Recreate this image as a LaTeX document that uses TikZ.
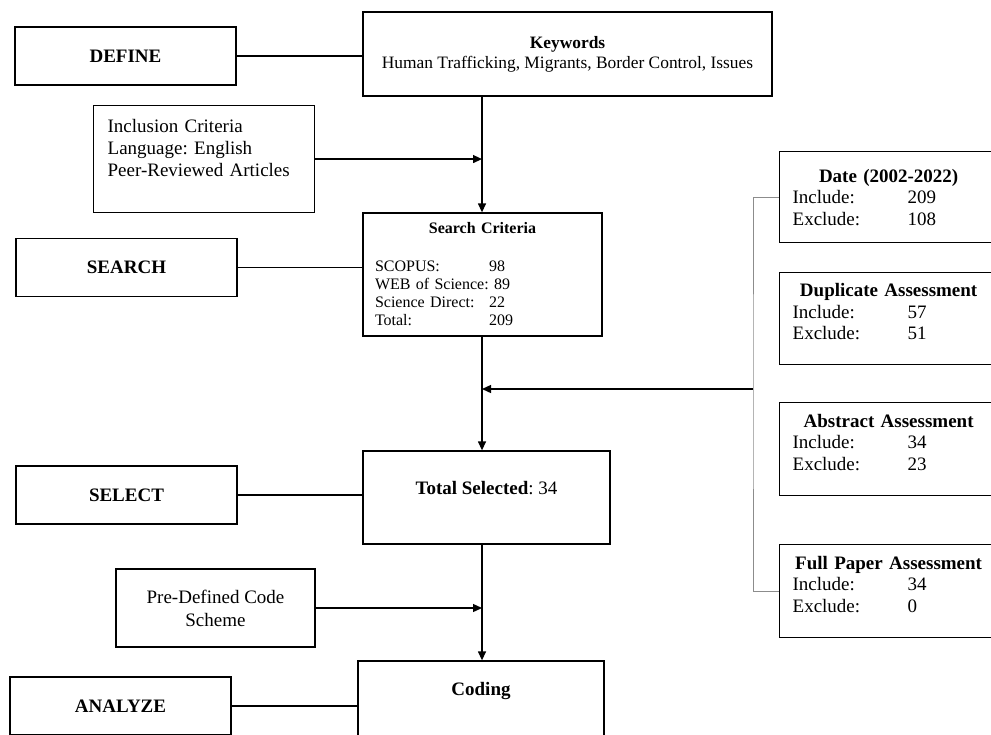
\documentclass[tikz,border=0pt]{standalone}
\usepackage{fontspec}
\setmainfont{Liberation Serif}
\usetikzlibrary{arrows.meta}
\frenchspacing

\begin{document}
\begin{tikzpicture}[
  x=1pt, y=-1pt,
  box/.style={draw, line width=1.3pt, inner sep=0pt},
  stage/.style={box, minimum width=221pt, minimum height=58pt, font=\fontsize{19}{21}\selectfont\bfseries},
  flow/.style={box, align=center, font=\fontsize{19}{23}\selectfont},
  filt/.style={box, anchor=north west, text width=192pt, inner xsep=13pt, align=left, font=\fontsize{19}{21.5}\selectfont},
  conn/.style={line width=1.3pt},
  arr/.style={conn, -{Triangle[length=9pt,width=8pt]}},
  bracket/.style={black!45, line width=0.8pt}
]
  \clip (0,0) rectangle (991,734);
  \fill[white] (0,0) rectangle (991,734);
  \coordinate (spine) at (482,0);
  \coordinate (join) at (753,389);

  % stages on the left
  \node[stage] (define) at (125.5,56) {DEFINE};
  \node[stage] (search) at (126.5,267.5) {SEARCH};
  \node[stage] (select) at (126.5,495) {SELECT};
  \node[stage] (analyze) at (120.5,706) {ANALYZE};

  % main flow
  \node[flow, minimum width=409pt, minimum height=84pt, font=\fontsize{17.4}{20}\selectfont] (keys) at (567.5,54)
    {\textbf{Keywords}\\Human Trafficking, Migrants, Border Control, Issues};
  \node[box, anchor=north west, text width=193pt, inner xsep=14pt, inner ysep=14pt,
    align=left, font=\fontsize{19}{21.8}\selectfont] (incl) at (93,105)
    {Inclusion Criteria\\Language: English\\Peer-Reviewed Articles\rule[-22pt]{0pt}{0pt}};
  \node[box, minimum width=239pt, minimum height=123pt, text width=215pt, inner xsep=12pt, align=left,
    font=\fontsize{16}{18}\selectfont] (crit) at (482.5,274.5)
    {{\centering\bfseries Search Criteria\par}\vspace{20pt}
     \makebox[114pt][l]{SCOPUS:}98\par
     WEB of Science: 89\par
     \makebox[114pt][l]{Science Direct:}22\par
     \makebox[114pt][l]{Total:}209};
  \node[box, minimum width=247pt, minimum height=93pt, text depth=19pt, font=\fontsize{19}{21}\selectfont] (total) at (486.5,497.5)
    {\textbf{Total Selected}: 34};
  \node[flow, minimum width=199pt, minimum height=78pt] (code) at (215.5,608) {Pre-Defined Code\\Scheme};
  \node[box, minimum width=246pt, minimum height=93pt, text depth=37pt, font=\fontsize{19}{21}\selectfont\bfseries] (coding) at (481,707.5)
    {Coding};

  % screening steps on the right
  \node[filt, minimum height=91pt] (date) at (779,151)
    {{\centering\bfseries Date (2002-2022)\par}\makebox[115pt][l]{Include:}209\par\makebox[115pt][l]{Exclude:}108};
  \node[filt, minimum height=92pt] (dup) at (779,272)
    {{\centering\bfseries Duplicate Assessment\par}\makebox[115pt][l]{Include:}57\par\makebox[115pt][l]{Exclude:}51\rule[-14pt]{0pt}{0pt}};
  \node[filt, minimum height=93pt] (abs) at (779,402)
    {{\centering\bfseries Abstract Assessment\par}\makebox[115pt][l]{Include:}34\par\makebox[115pt][l]{Exclude:}23\rule[-14pt]{0pt}{0pt}};
  \node[filt, minimum height=93pt] (full) at (779,544)
    {{\centering\bfseries Full Paper Assessment\par}\makebox[115pt][l]{Include:}34\par\makebox[115pt][l]{Exclude:}0\rule[-14pt]{0pt}{0pt}};

  % connectors
  \draw[conn] (define.east) -- (define.east -| keys.west);
  \draw[arr] (keys.south -| spine) -- (crit.north -| spine);
  \draw[arr] (incl.east) -- (incl.east -| spine);
  \draw[conn] (search.east) -- (search.east -| crit.west);
  \draw[arr] (crit.south -| spine) -- (total.north -| spine);
  \draw[arr] (join) -- (join -| spine);
  \draw[bracket] (date.west) -| (join) |- (full.west);
  \draw[conn] (select.east) -- (select.east -| total.west);
  \draw[arr] (total.south -| spine) -- (coding.north -| spine);
  \draw[arr] (code.east) -- (code.east -| spine);
  \draw[conn] (analyze.east) -- (analyze.east -| coding.west);
\end{tikzpicture}
\end{document}
